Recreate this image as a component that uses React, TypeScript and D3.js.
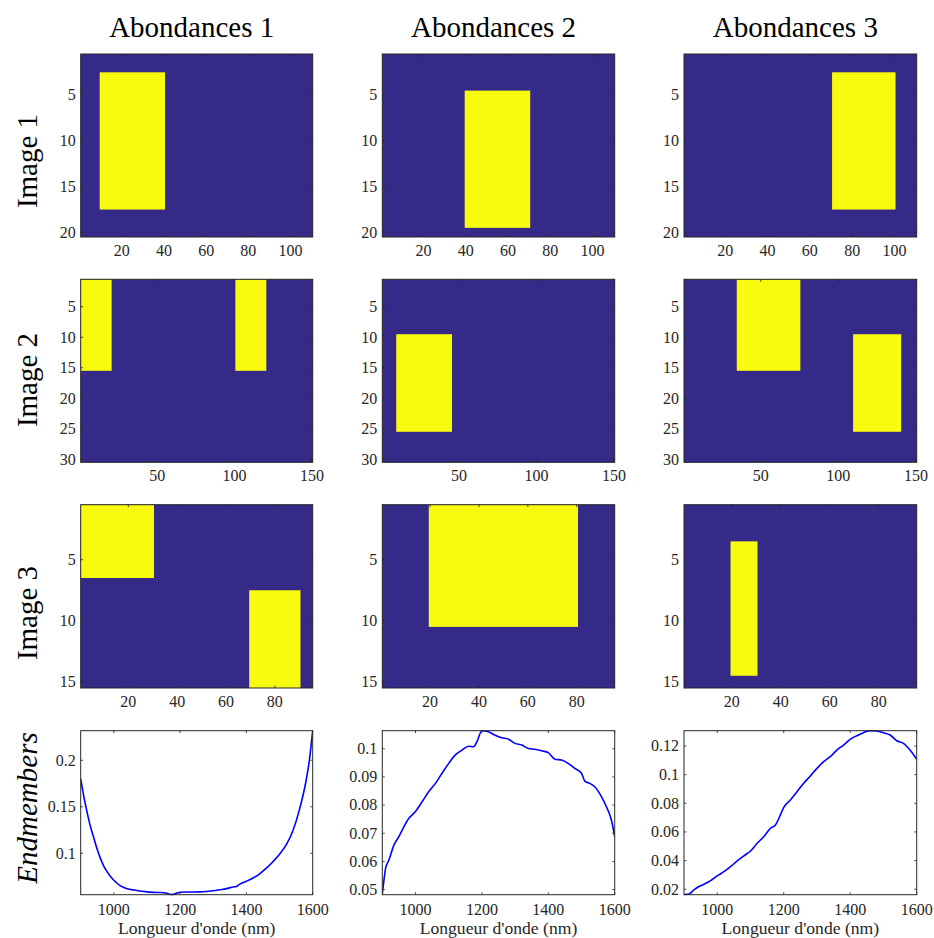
import React from "react";
import * as d3 from "d3";

// ---------- data ----------
const columnTitles = ["Abondances 1", "Abondances 2", "Abondances 3"];
const rowLabels = ["Image 1", "Image 2", "Image 3"];
const spectraLabel = "Endmembers";
const xLabel = "Longueur d'onde (nm)";

const imageCols = [110, 150, 95];
const imageRows = [20, 30, 15];
const imageXTicks = [[20, 40, 60, 80, 100], [50, 100, 150], [20, 40, 60, 80]];
const imageYTicks = [[5, 10, 15, 20], [5, 10, 15, 20, 25, 30], [5, 10, 15]];

// blocks of abundance = 1 : [colStart, colEnd, rowStart, rowEnd] (inclusive, 1-based)
const abundance1Blocks = [
  [[10, 40, 3, 17]],
  [[1, 20, 1, 15], [101, 120, 1, 15]],
  [[1, 30, 1, 6], [70, 90, 8, 15]],
];
const abundance2Blocks = [
  [[40, 70, 5, 19]],
  [[10, 45, 10, 25]],
  [[20, 80, 1, 10]],
];
const abundance3Blocks = [
  [[71, 100, 3, 17]],
  [[35, 75, 1, 15], [110, 140, 10, 25]],
  [[20, 30, 4, 14]],
];

const em1Wavelength = [900, 910, 920, 930, 940, 950, 960, 970, 980, 990, 1000, 1020, 1040, 1060, 1080, 1100, 1120, 1140, 1160, 1175, 1190, 1200, 1220, 1240, 1260, 1280, 1300, 1320, 1340, 1360, 1370, 1380, 1400, 1420, 1440, 1460, 1480, 1500, 1520, 1540, 1560, 1580, 1590, 1600];
const em1Value = [0.180, 0.160, 0.143, 0.128, 0.116, 0.104, 0.094, 0.086, 0.080, 0.075, 0.071, 0.065, 0.062, 0.0605, 0.0595, 0.0585, 0.058, 0.0578, 0.0570, 0.0556, 0.0572, 0.0582, 0.0584, 0.0584, 0.0585, 0.059, 0.0597, 0.0608, 0.062, 0.0638, 0.0643, 0.0668, 0.0700, 0.0735, 0.078, 0.084, 0.091, 0.099, 0.109, 0.124, 0.147, 0.178, 0.200, 0.2318];

const em2Wavelength = [900, 905, 910, 920, 935, 950, 965, 980, 1000, 1020, 1040, 1060, 1080, 1100, 1120, 1140, 1160, 1175, 1185, 1200, 1220, 1240, 1260, 1280, 1300, 1320, 1340, 1360, 1380, 1400, 1420, 1440, 1460, 1480, 1500, 1510, 1525, 1540, 1560, 1575, 1590, 1600];
const em2Value = [0.0485, 0.0534, 0.0576, 0.0605, 0.0658, 0.0688, 0.0723, 0.0753, 0.0777, 0.0812, 0.0848, 0.0877, 0.0913, 0.0948, 0.0978, 0.0995, 0.1009, 0.1007, 0.1025, 0.1064, 0.1060, 0.1048, 0.1039, 0.1034, 0.1019, 0.1013, 0.1001, 0.0998, 0.0993, 0.0986, 0.0963, 0.0960, 0.0948, 0.0930, 0.0913, 0.0885, 0.0877, 0.0865, 0.0830, 0.0794, 0.0747, 0.0688];

const em3Wavelength = [900, 915, 930, 945, 960, 980, 1000, 1020, 1040, 1060, 1080, 1100, 1120, 1140, 1160, 1175, 1190, 1200, 1220, 1240, 1260, 1280, 1300, 1320, 1340, 1360, 1380, 1400, 1420, 1440, 1460, 1480, 1500, 1520, 1540, 1560, 1580, 1600];
const em3Value = [0.0163, 0.0167, 0.0195, 0.0219, 0.0235, 0.0260, 0.0293, 0.0323, 0.0358, 0.0398, 0.0433, 0.0467, 0.0521, 0.0567, 0.0626, 0.0649, 0.0719, 0.0772, 0.0823, 0.0881, 0.0940, 0.0991, 0.1044, 0.1091, 0.1126, 0.1172, 0.1207, 0.1247, 0.1272, 0.1293, 0.1307, 0.1305, 0.1293, 0.1277, 0.1237, 0.1219, 0.1172, 0.1107];

const spectraXDomain = [900, 1600];
const spectraXTicks = [1000, 1200, 1400, 1600];
const spectraYDomains = [[0.0555, 0.2318], [0.0482, 0.1064], [0.0162, 0.1307]];
const spectraYTicks = [[0.1, 0.15, 0.2], [0.05, 0.06, 0.07, 0.08, 0.09, 0.1], [0.02, 0.04, 0.06, 0.08, 0.1, 0.12]];

// ---------- layout ----------
const W = 934;
const H = 938;
const colX = [[80.7, 312.7], [382.3, 614.7], [684, 916.7]];
const rowY = [[54, 237], [279.3, 462.3], [504.7, 688], [730.7, 894.7]];
const FONT = "'Liberation Serif', 'Times New Roman', Times, serif";
const AXC = "#262626";
const LOW = "#352a87";
const HIGH = "#f9fb0e";
const TICK = 2.5;
const TICKFS = 16;

const blocksByCol = [abundance1Blocks, abundance2Blocks, abundance3Blocks];
const emWl = [em1Wavelength, em2Wavelength, em3Wavelength];
const emVal = [em1Value, em2Value, em3Value];

function fmt(v: number) {
  return String(+v.toFixed(4));
}

function Frame({ x0, x1, y0, y1, xs, ys, xt, yt, xLabelOffset }: any) {
  return (
    <g>
      <rect x={x0} y={y0} width={x1 - x0} height={y1 - y0} fill="none" stroke={AXC} strokeWidth={1} />
      {xt.map((t: number) => (
        <g key={"x" + t}>
          <line x1={xs(t)} x2={xs(t)} y1={y1} y2={y1 - TICK} stroke={AXC} strokeWidth={0.8} />
          <line x1={xs(t)} x2={xs(t)} y1={y0} y2={y0 + TICK} stroke={AXC} strokeWidth={0.8} />
          <text x={xs(t)} y={y1 + xLabelOffset} textAnchor="middle" fontSize={TICKFS} fill={AXC} fontFamily={FONT}>
            {fmt(t)}
          </text>
        </g>
      ))}
      {yt.map((t: number) => (
        <g key={"y" + t}>
          <line x1={x0} x2={x0 + TICK} y1={ys(t)} y2={ys(t)} stroke={AXC} strokeWidth={0.8} />
          <line x1={x1} x2={x1 - TICK} y1={ys(t)} y2={ys(t)} stroke={AXC} strokeWidth={0.8} />
          <text x={x0 - 5} y={ys(t)} dy="0.33em" textAnchor="end" fontSize={TICKFS} fill={AXC} fontFamily={FONT}>
            {fmt(t)}
          </text>
        </g>
      ))}
    </g>
  );
}

function ImagePanel({ r, c }: { r: number; c: number }) {
  const [x0, x1] = colX[c];
  const [y0, y1] = rowY[r];
  const xs = d3.scaleLinear().domain([0.5, imageCols[r] + 0.5]).range([x0, x1]);
  const ys = d3.scaleLinear().domain([0.5, imageRows[r] + 0.5]).range([y0, y1]);
  const blocks = blocksByCol[c][r];
  return (
    <g>
      <rect x={xs(0.5)} y={ys(0.5)} width={xs(imageCols[r] + 0.5) - xs(0.5)} height={ys(imageRows[r] + 0.5) - ys(0.5)} fill={LOW} />
      {blocks.map((b: number[], i: number) => (
        <rect
          key={i}
          x={xs(b[0] - 0.5)}
          y={ys(b[2] - 0.5)}
          width={xs(b[1] + 0.5) - xs(b[0] - 0.5)}
          height={ys(b[3] + 0.5) - ys(b[2] - 0.5)}
          fill={HIGH}
        />
      ))}
      <Frame x0={x0} x1={x1} y0={y0} y1={y1} xs={xs} ys={ys} xt={imageXTicks[r]} yt={imageYTicks[r]} xLabelOffset={19} />
    </g>
  );
}

function SpectrumPanel({ c }: { c: number }) {
  const [x0, x1] = colX[c];
  const [y0, y1] = rowY[3];
  const xs = d3.scaleLinear().domain(spectraXDomain).range([x0, x1]);
  const ys = d3.scaleLinear().domain(spectraYDomains[c]).range([y1, y0]);
  const pts = emWl[c].map((w, i) => [w, emVal[c][i]] as [number, number]);
  const line = d3
    .line<[number, number]>()
    .x((d) => xs(d[0]))
    .y((d) => ys(d[1]))
    .curve(d3.curveMonotoneX);
  const clipId = "clip" + c;
  return (
    <g>
      <defs>
        <clipPath id={clipId}>
          <rect x={x0} y={y0 - 1} width={x1 - x0} height={y1 - y0 + 2} />
        </clipPath>
      </defs>
      <rect x={x0} y={y0} width={x1 - x0} height={y1 - y0} fill="#fff" />
      <path d={line(pts) || ""} fill="none" stroke="#0000ff" strokeWidth={1.6} clipPath={`url(#${clipId})`} />
      <Frame x0={x0} x1={x1} y0={y0} y1={y1} xs={xs} ys={ys} xt={spectraXTicks} yt={spectraYTicks[c]} xLabelOffset={20} />
      <text x={(x0 + x1) / 2} y={y1 + 39} textAnchor="middle" fontSize={17.6} fill={AXC} fontFamily={FONT}>
        {xLabel}
      </text>
    </g>
  );
}

const rowLabelCenters = [161, 380, 613];

export default function App() {
  return (
    <svg width={W} height={H} style={{ position: "absolute", left: 0, top: 0, display: "block", background: "#fff" }}>
      <rect x={0} y={0} width={W} height={H} fill="#fff" />
      {columnTitles.map((t, c) => (
        <text key={t} x={(colX[c][0] + colX[c][1]) / 2 - 5} y={37} textAnchor="middle" fontSize={29} fill="#000" fontFamily={FONT}>
          {t}
        </text>
      ))}
      {rowLabels.map((t, r) => (
        <text key={t} transform={`translate(37,${rowLabelCenters[r]}) rotate(-90)`} textAnchor="middle" fontSize={29} fill="#000" fontFamily={FONT}>
          {t}
        </text>
      ))}
      <text transform={`translate(37,808) rotate(-90)`} textAnchor="middle" fontSize={29} fontStyle="italic" fill="#000" fontFamily={FONT}>
        {spectraLabel}
      </text>
      {[0, 1, 2].map((r) => [0, 1, 2].map((c) => <ImagePanel key={`${r}-${c}`} r={r} c={c} />))}
      {[0, 1, 2].map((c) => (
        <SpectrumPanel key={c} c={c} />
      ))}
    </svg>
  );
}
